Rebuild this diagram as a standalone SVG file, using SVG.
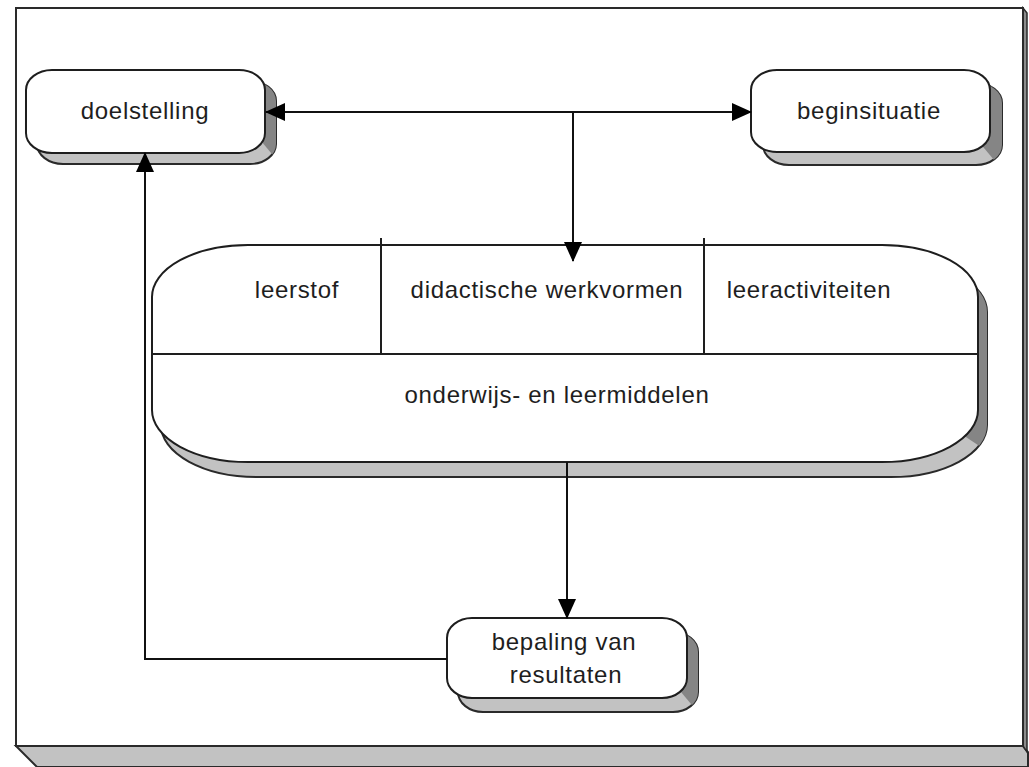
<svg xmlns="http://www.w3.org/2000/svg" width="1029" height="767" viewBox="0 0 1029 767">
<style>
.frame{fill:#ffffff;stroke:#2a2a2a;stroke-width:2}
.box{fill:#ffffff;stroke:#1e1e1e;stroke-width:2}
.sh{fill:#c2c2c2;stroke:#2a2a2a;stroke-width:2}
.shd{fill:#858585;stroke:none}
.ln{fill:none;stroke:#1e1e1e;stroke-width:2}
.con{fill:none;stroke:#111111;stroke-width:2}
text{font-family:"Liberation Sans",Arial,sans-serif;font-size:24px;letter-spacing:0.7px;fill:#1e1e1e;text-anchor:middle}
</style>
<defs>
<marker id="ah" markerUnits="userSpaceOnUse" markerWidth="20" markerHeight="18" refX="19" refY="9" orient="auto-start-reverse">
<path d="M0,0 L20,9 L0,18 z" fill="#000"/>
</marker>
<clipPath id="c1"><polygon points="66,-93 296,183 400,-93"/></clipPath>
<clipPath id="c2"><polygon points="784,-92 1014,184 1100,-92"/></clipPath>
<clipPath id="c3"><polygon points="481,452 711,728 800,452"/></clipPath>
<clipPath id="c4"><polygon points="483,115 1023,475 1023,115"/></clipPath>
</defs>

<g id="frame">
<polygon points="16,746 1023,746 1028,752 1028,767 37,767" fill="#c2c2c2" stroke="#2a2a2a" stroke-width="2"/>
<polygon points="1023,8 1027,13 1027,752 1023,746" fill="#8c8c8c" stroke="#2a2a2a" stroke-width="1.5"/>
<rect class="frame" x="16" y="8" width="1007" height="738"/>
</g>

<g id="doelstelling">
<rect class="sh" x="37" y="81" width="239" height="83" rx="26" ry="20"/>
<rect class="shd" x="37" y="81" width="239" height="83" rx="26" ry="20" clip-path="url(#c1)"/>
<rect class="box" x="26" y="70" width="239" height="83" rx="26" ry="20"/>
<text x="145" y="119">doelstelling</text>
</g>

<g id="beginsituatie">
<rect class="sh" x="763" y="83" width="239" height="82" rx="26" ry="20"/>
<rect class="shd" x="763" y="83" width="239" height="82" rx="26" ry="20" clip-path="url(#c2)"/>
<rect class="box" x="751" y="70" width="239" height="82" rx="26" ry="20"/>
<text x="869" y="119">beginsituatie</text>
</g>

<g id="onderwijsleersituatie">
<rect class="sh" x="161" y="260" width="826" height="217" rx="96" ry="52"/>
<rect class="shd" x="161" y="260" width="826" height="217" rx="96" ry="52" clip-path="url(#c4)"/>
<rect class="box" x="152" y="245" width="826" height="217" rx="96" ry="52"/>
<line class="ln" x1="152" y1="354" x2="978" y2="354"/>
<line class="ln" x1="381" y1="238" x2="381" y2="354"/>
<line class="ln" x1="704" y1="238" x2="704" y2="354"/>
<text x="297" y="298">leerstof</text>
<text x="547" y="298">didactische werkvormen</text>
<text x="809" y="298">leeractiviteiten</text>
<text x="557" y="403">onderwijs- en leermiddelen</text>
</g>

<g id="bepaling">
<rect class="sh" x="458" y="632" width="240" height="80" rx="25" ry="20"/>
<rect class="shd" x="458" y="632" width="240" height="80" rx="25" ry="20" clip-path="url(#c3)"/>
<rect class="box" x="447" y="618" width="240" height="80" rx="25" ry="20"/>
<text x="564" y="650">bepaling van</text>
<text x="566" y="683">resultaten</text>
</g>

<g id="connectors">
<line class="con" x1="266" y1="112" x2="751" y2="112" marker-start="url(#ah)" marker-end="url(#ah)"/>
<line class="con" x1="573" y1="112" x2="573" y2="261" marker-end="url(#ah)"/>
<line class="con" x1="567" y1="462" x2="567" y2="618" marker-end="url(#ah)"/>
<polyline class="con" points="447,659 145,659 145,153" marker-end="url(#ah)"/>
</g>
</svg>
